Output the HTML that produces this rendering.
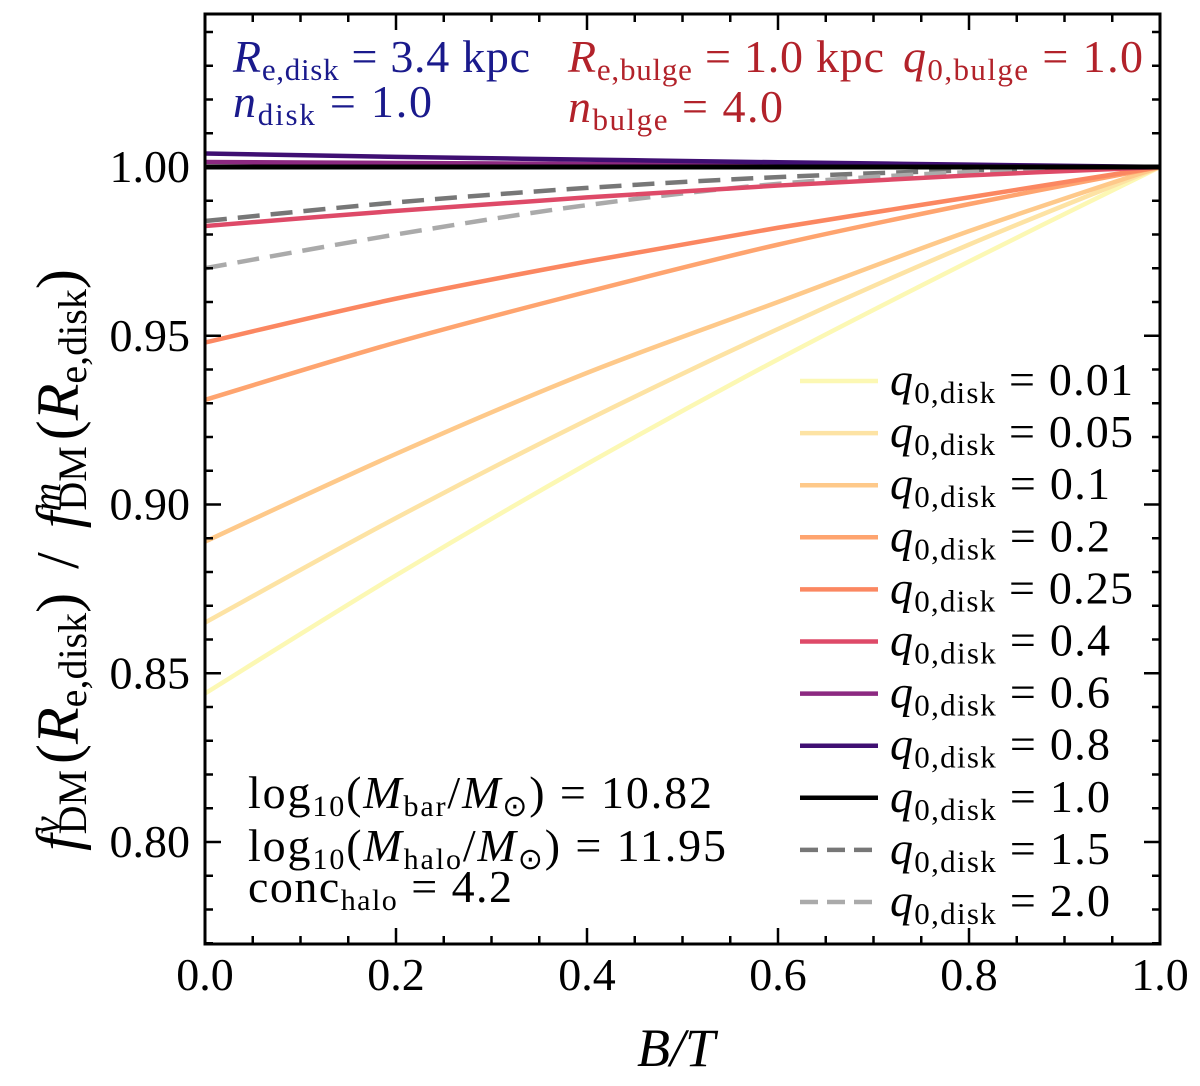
<!DOCTYPE html>
<html><head><meta charset="utf-8"><style>
body{margin:0;background:#fff}
svg{display:block;font-family:"Liberation Serif",serif}
</style></head><body>
<svg id="chart" width="1200" height="1086" viewBox="0 0 1200 1086" xmlns="http://www.w3.org/2000/svg">
<g id="lines"></g>
<g id="ticks"></g>
<rect x="205" y="14" width="955" height="930" fill="none" stroke="#000" stroke-width="3"/>
<g font-size="46" fill="#1a1a8c">
<text x="233" y="72" textLength="297" lengthAdjust="spacing"><tspan font-style="italic">R</tspan><tspan font-size="31" dy="8">e,disk</tspan><tspan dy="-8"> = 3.4 kpc</tspan></text>
<text x="233" y="117" textLength="199" lengthAdjust="spacing"><tspan font-style="italic">n</tspan><tspan font-size="31" dy="8">disk</tspan><tspan dy="-8"> = 1.0</tspan></text>
</g>
<g font-size="46" fill="#b2222a">
<text x="568" y="72" textLength="316" lengthAdjust="spacing"><tspan font-style="italic">R</tspan><tspan font-size="31" dy="8">e,bulge</tspan><tspan dy="-8"> = 1.0 kpc</tspan></text>
<text x="903" y="72" textLength="240" lengthAdjust="spacing"><tspan font-style="italic">q</tspan><tspan font-size="31" dy="8">0,bulge</tspan><tspan dy="-8"> = 1.0</tspan></text>
<text x="568" y="122" textLength="215" lengthAdjust="spacing"><tspan font-style="italic">n</tspan><tspan font-size="31" dy="8">bulge</tspan><tspan dy="-8"> = 4.0</tspan></text>
</g>
<g font-size="46" fill="#000">
<text x="248" y="808" textLength="464" lengthAdjust="spacing">log<tspan font-size="30" dy="8">10</tspan><tspan dy="-8">(</tspan><tspan font-style="italic">M</tspan><tspan font-size="30" dy="8">bar</tspan><tspan dy="-8">/</tspan><tspan font-style="italic">M</tspan><tspan font-size="30" dy="8">⊙</tspan><tspan dy="-8">) = 10.82</tspan></text>
<text x="248" y="861" textLength="478" lengthAdjust="spacing">log<tspan font-size="30" dy="8">10</tspan><tspan dy="-8">(</tspan><tspan font-style="italic">M</tspan><tspan font-size="30" dy="8">halo</tspan><tspan dy="-8">/</tspan><tspan font-style="italic">M</tspan><tspan font-size="30" dy="8">⊙</tspan><tspan dy="-8">) = 11.95</tspan></text>
<text x="248" y="902" textLength="264" lengthAdjust="spacing">conc<tspan font-size="30" dy="8">halo</tspan><tspan dy="-8"> = 4.2</tspan></text>
</g>
<g id="legend"></g>
<text x="676" y="1066" font-size="54" text-anchor="middle" font-style="italic">B/T</text>
<text transform="translate(78,560) rotate(-90)" font-size="60" text-anchor="middle"><tspan font-style="italic">f</tspan><tspan font-size="40" dy="-18" font-style="italic">v</tspan><tspan font-size="40" dx="-18" dy="26">DM</tspan><tspan dy="-8" dx="6">(</tspan><tspan font-style="italic">R</tspan><tspan font-size="40" dy="8">e,disk</tspan><tspan dy="-8">)</tspan><tspan dx="24">/</tspan><tspan dx="24" font-style="italic">f</tspan><tspan font-size="40" dy="-18" font-style="italic">m</tspan><tspan font-size="40" dx="-28" dy="26">DM</tspan><tspan dy="-8" dx="6">(</tspan><tspan font-style="italic">R</tspan><tspan font-size="40" dy="8">e,disk</tspan><tspan dy="-8">)</tspan></text>
</svg>
<script>
const bt = [0, 0.2, 0.4, 0.6, 0.8, 1.0];
const qLabels = ["0.01","0.05","0.1","0.2","0.25","0.4","0.6","0.8","1.0","1.5","2.0"];
const s001 = [0.844, 0.879, 0.912, 0.943, 0.972, 1];
const s005 = [0.865, 0.896, 0.925, 0.952, 0.977, 1];
const s01  = [0.889, 0.915, 0.939, 0.960, 0.981, 1];
const s02  = [0.931, 0.948, 0.963, 0.977, 0.989, 1];
const s025 = [0.948, 0.961, 0.972, 0.982, 0.991, 1];
const s04  = [0.9825, 0.987, 0.991, 0.9945, 0.9975, 1];
const s06  = [1.0015, 1.0012, 1.0009, 1.0006, 1.0003, 1];
const s08  = [1.004, 1.003, 1.0022, 1.0014, 1.0007, 1];
const s10  = [1, 1, 1, 1, 1, 1];
const s15  = [0.984, 0.9895, 0.9938, 0.997, 0.999, 1];
const s20  = [0.970, 0.980, 0.9887, 0.995, 0.9985, 1];
const xTicks = ["0.0","0.2","0.4","0.6","0.8","1.0"];
const yTicks = ["0.80","0.85","0.90","0.95","1.00"];

const series=[s001,s005,s01,s02,s025,s04,s06,s08,s10,s15,s20];
const colors=["#fcf8b4","#fde3a4","#fec98a","#fea46f","#fb8761","#de4a68","#8c2981","#3f0f72","#000000","#777777","#aaaaaa"];
const X=v=>205+v*955;
const Y=v=>167+(1-v)*3375;
const NS="http://www.w3.org/2000/svg";
const L=document.getElementById('lines');
const order=[0,1,2,3,4,9,10,5,6,7,8];
order.forEach(i=>{
  const p=document.createElementNS(NS,'path');
  const pts=bt.map((b,k)=>[X(b),Y(series[i][k])]);
  let d='M'+pts[0][0]+','+pts[0][1];
  for(let k=0;k<pts.length-1;k++){
    const p0=pts[Math.max(k-1,0)],p1=pts[k],p2=pts[k+1],p3=pts[Math.min(k+2,pts.length-1)];
    d+=' C'+(p1[0]+(p2[0]-p0[0])/6)+','+(p1[1]+(p2[1]-p0[1])/6)+' '+(p2[0]-(p3[0]-p1[0])/6)+','+(p2[1]-(p3[1]-p1[1])/6)+' '+p2[0]+','+p2[1];
  }
  p.setAttribute('d',d);
  p.setAttribute('fill','none');
  p.setAttribute('stroke',colors[i]);
  p.setAttribute('stroke-width',i==8?5:4.5);
  if(i>=9)p.setAttribute('stroke-dasharray','22 11');
  
  
  L.appendChild(p);
});
const T=document.getElementById('ticks');
function line(x1,y1,x2,y2){const l=document.createElementNS(NS,'line');l.setAttribute('x1',x1);l.setAttribute('y1',y1);l.setAttribute('x2',x2);l.setAttribute('y2',y2);l.setAttribute('stroke','#000');l.setAttribute('stroke-width',2.5);T.appendChild(l);}
function text(x,y,s,anchor,name){const t=document.createElementNS(NS,'text');t.setAttribute('x',x);t.setAttribute('y',y);t.setAttribute('font-size',46);t.setAttribute('text-anchor',anchor);t.textContent=s;


T.appendChild(t);}
for(let k=0;k<=20;k++){const v=k*0.05,x=X(v),len=k%4==0?16:8;line(x,944,x,944-len);line(x,14,x,14+len);}
xTicks.forEach(s=>text(X(+s),990,s,'middle','x-tick-label'));
for(let k=0;k<=27;k++){const v=0.77+k*0.01;const y=Y(v);if(y<14||y>944)continue;const r=Math.round(v*100)%5;const len=r==0?16:8;line(205,y,205+len,y);line(1160,y,1160-len,y);}
yTicks.forEach(s=>text(190,Y(+s)+15,s,'end','y-tick-label'));
const G=document.getElementById('legend');
qLabels.forEach((q,i)=>{
  const y=381+i*52.1;
  const l=document.createElementNS(NS,'line');
  l.setAttribute('x1',800);l.setAttribute('x2',878);l.setAttribute('y1',y);l.setAttribute('y2',y);
  l.setAttribute('stroke',colors[i]);l.setAttribute('stroke-width',4.5);
  if(i>=9)l.setAttribute('stroke-dasharray','18 9');
  
  
  G.appendChild(l);
  const t=document.createElementNS(NS,'text');
  t.setAttribute('x',890);t.setAttribute('y',y+14);t.setAttribute('font-size',46);
  t.setAttribute('textLength',q.length>3?243:220);t.setAttribute('lengthAdjust','spacing');
  t.innerHTML='<tspan font-style="italic">q</tspan><tspan font-size="31" dy="8">0,disk</tspan><tspan dy="-8"> = '+q+'</tspan>';
  
  
  G.appendChild(t);
});
</script>
</body></html>
